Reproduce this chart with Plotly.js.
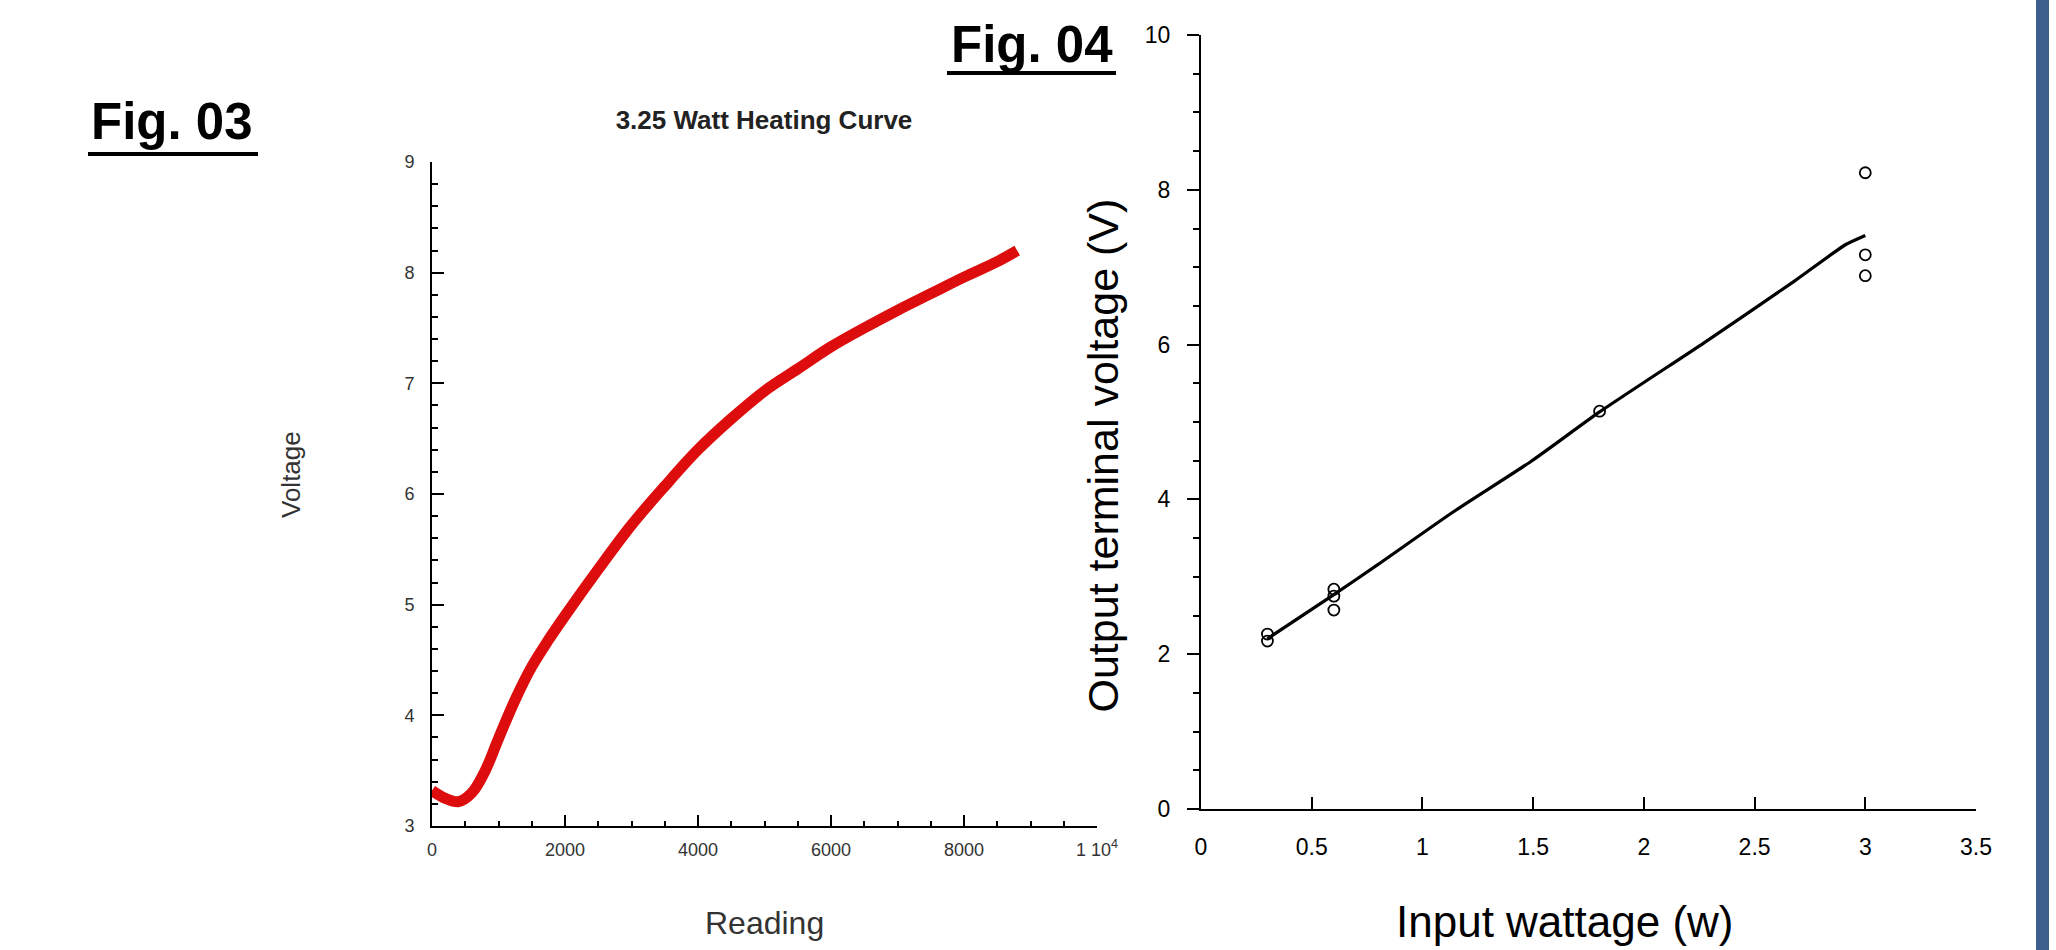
<!DOCTYPE html>
<html>
<head>
<meta charset="utf-8">
<script src="https://cdn.plot.ly/plotly-3.0.1.min.js"></script>
<style>
  html, body { margin: 0; padding: 0; background: #ffffff; }
  #chart { width: 2056px; height: 950px; }
</style>
</head>
<body>
<div id="chart"></div>
<script>
// ---- Fig. 03 : 3.25 Watt heating curve ----
const readingX = [0, 200, 400, 600, 800, 1000, 1250, 1500, 1750, 2000, 2500, 3000, 3500, 4000, 4500, 5000, 5500, 6000, 6500, 7000, 7500, 8000, 8500, 8800];
const voltageY = [3.32, 3.25, 3.22, 3.30, 3.50, 3.79, 4.14, 4.44, 4.68, 4.90, 5.32, 5.72, 6.07, 6.40, 6.68, 6.93, 7.13, 7.33, 7.50, 7.66, 7.81, 7.96, 8.10, 8.20];
const readingTickVals = [0, 2000, 4000, 6000, 8000, 10000];
const readingTickText = ['0', '2000', '4000', '6000', '8000', '1 10<sup>4</sup>'];

// ---- Fig. 04 : output terminal voltage vs input wattage ----
const wattX = [0.3, 0.3, 0.6, 0.6, 0.6, 1.8, 3.0, 3.0, 3.0];
const terminalV = [2.26, 2.17, 2.84, 2.75, 2.57, 5.14, 8.22, 7.16, 6.89];
const fitX = [0.3, 0.59, 0.80, 1.14, 1.49, 1.80, 2.27, 2.68, 2.91, 3.0];
const fitY = [2.20, 2.75, 3.16, 3.84, 4.49, 5.13, 6.02, 6.82, 7.29, 7.41];

const W = 2056, H = 950;
const px = v => v / W;
const py = v => (H - v) / H;

const traces = [
  {
    x: readingX, y: voltageY, xaxis: 'x', yaxis: 'y',
    type: 'scatter', mode: 'lines',
    line: { color: '#dd0d0d', width: 11, shape: 'spline', smoothing: 1 },
    hoverinfo: 'x+y'
  },
  {
    x: fitX, y: fitY, xaxis: 'x2', yaxis: 'y2',
    type: 'scatter', mode: 'lines',
    line: { color: '#000000', width: 3.2, shape: 'spline', smoothing: 0.5 },
    hoverinfo: 'x+y'
  },
  {
    x: wattX, y: terminalV, xaxis: 'x2', yaxis: 'y2',
    type: 'scatter', mode: 'markers',
    marker: { symbol: 'circle-open', size: 11, color: '#000000', line: { width: 1.8, color: '#000000' } },
    hoverinfo: 'x+y'
  }
];

const f3 = { family: 'Liberation Sans, Arial, sans-serif', size: 18, color: '#333333' };
const f4 = { family: 'Liberation Sans, Arial, sans-serif', size: 23, color: '#000000' };

const layout = {
  width: W, height: H,
  margin: { l: 0, r: 0, t: 0, b: 0, pad: 0 },
  paper_bgcolor: '#ffffff', plot_bgcolor: '#ffffff',
  showlegend: false,
  title: {
    text: '<b>3.25 Watt Heating Curve</b>',
    x: px(764), xanchor: 'center', xref: 'paper',
    y: py(120), yanchor: 'middle', yref: 'paper',
    font: { family: 'Liberation Sans, Arial, sans-serif', size: 26, color: '#222222' }
  },
  xaxis: {
    domain: [px(432), px(1097)], anchor: 'y', range: [0, 10000],
    showline: true, linecolor: '#000', linewidth: 2, mirror: false,
    showgrid: false, zeroline: false,
    tickmode: 'array', tickvals: readingTickVals, ticktext: readingTickText,
    ticks: 'inside', ticklen: 11, tickwidth: 2, tickcolor: '#000',
    minor: { tickmode: 'linear', tick0: 0, dtick: 500, ticks: 'inside', ticklen: 5, tickwidth: 2, tickcolor: '#000', showgrid: false },
    tickfont: f3, ticklabelstandoff: 6, fixedrange: true
  },
  yaxis: {
    domain: [py(826), py(162)], anchor: 'x', range: [3, 9],
    showline: true, linecolor: '#000', linewidth: 2,
    showgrid: false, zeroline: false,
    tickmode: 'linear', tick0: 3, dtick: 1,
    ticks: 'inside', ticklen: 12, tickwidth: 2, tickcolor: '#000',
    minor: { tickmode: 'linear', tick0: 3, dtick: 0.2, ticks: 'inside', ticklen: 6, tickwidth: 2, tickcolor: '#000', showgrid: false },
    tickfont: f3, ticklabelstandoff: 12, fixedrange: true
  },
  xaxis2: {
    domain: [px(1201), px(1976)], anchor: 'y2', range: [0, 3.5],
    showline: true, linecolor: '#000', linewidth: 2,
    showgrid: false, zeroline: false,
    tickmode: 'linear', tick0: 0, dtick: 0.5,
    ticks: 'inside', ticklen: 12, tickwidth: 2, tickcolor: '#000',
    tickfont: f4, ticklabelstandoff: 16, fixedrange: true
  },
  yaxis2: {
    domain: [py(809), py(35)], anchor: 'x2', range: [0, 10],
    showline: true, linecolor: '#000', linewidth: 2,
    showgrid: false, zeroline: false,
    tickmode: 'linear', tick0: 0, dtick: 2,
    ticks: 'outside', ticklen: 12, tickwidth: 2, tickcolor: '#000',
    minor: { tickmode: 'linear', tick0: 0, dtick: 0.5, ticks: 'outside', ticklen: 6, tickwidth: 2, tickcolor: '#000', showgrid: false },
    tickfont: f4, ticklabelstandoff: 12, fixedrange: true
  },
  annotations: [
    { text: '<b>Fig. 03</b>', xref: 'paper', yref: 'paper', x: px(172), y: py(121.5), xanchor: 'center', yanchor: 'middle', showarrow: false,
      font: { family: 'Liberation Sans, Arial, sans-serif', size: 51, color: '#000' } },
    { text: '<b>Fig. 04</b>', xref: 'paper', yref: 'paper', x: px(1031.5), y: py(44.5), xanchor: 'center', yanchor: 'middle', showarrow: false,
      font: { family: 'Liberation Sans, Arial, sans-serif', size: 51, color: '#000' } },
    { text: 'Voltage', xref: 'paper', yref: 'paper', x: px(291), y: py(475), xanchor: 'center', yanchor: 'middle', showarrow: false, textangle: -90,
      font: { family: 'Liberation Sans, Arial, sans-serif', size: 26, color: '#333333' } },
    { text: 'Reading', xref: 'paper', yref: 'paper', x: px(764), y: py(923), xanchor: 'center', yanchor: 'middle', showarrow: false,
      font: { family: 'Liberation Sans, Arial, sans-serif', size: 32, color: '#333333' } },
    { text: 'Output terminal voltage (V)', xref: 'paper', yref: 'paper', x: px(1103), y: py(455.5), xanchor: 'center', yanchor: 'middle', showarrow: false, textangle: -90,
      font: { family: 'Liberation Sans, Arial, sans-serif', size: 43, color: '#000' } },
    { text: 'Input wattage (w)', xref: 'paper', yref: 'paper', x: px(1565), y: py(921), xanchor: 'center', yanchor: 'middle', showarrow: false,
      font: { family: 'Liberation Sans, Arial, sans-serif', size: 44, color: '#000' } }
  ],
  shapes: [
    { type: 'line', xref: 'paper', yref: 'paper', x0: px(88), x1: px(258), y0: py(154), y1: py(154), line: { color: '#000', width: 4 } },
    { type: 'line', xref: 'paper', yref: 'paper', x0: px(947), x1: px(1116), y0: py(73), y1: py(73), line: { color: '#000', width: 4 } },
    { type: 'rect', xref: 'paper', yref: 'paper', x0: px(2036), x1: px(2049), y0: 0, y1: 1, fillcolor: '#3b5e8c', line: { width: 0 } }
  ]
};

Plotly.newPlot('chart', traces, layout, { displayModeBar: false, staticPlot: true });
</script>
</body>
</html>
